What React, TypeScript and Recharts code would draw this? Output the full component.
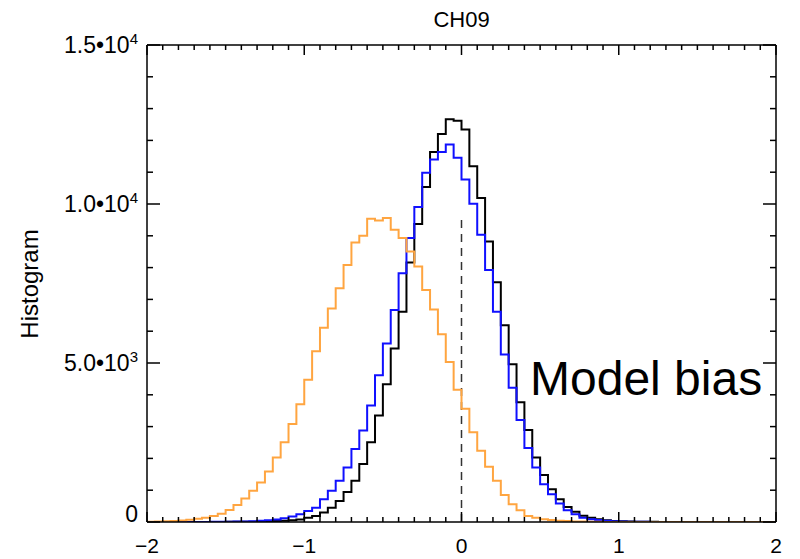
import React from "react";
import { ComposedChart, Line, XAxis, YAxis, ReferenceLine } from "recharts";

const FONT = '"Liberation Sans", Arial, Helvetica, sans-serif';

// histogram bins: 80 bins of width 0.05 from -2 to 2 (value = left edge)
const BIN_START = -2;
const BIN_WIDTH = 0.05;

const blackCounts = [
  0, 0, 0, 0, 0, 1, 1, 2, 2, 3, 4, 6, 8, 11, 15, 20, 28, 38, 55, 80,
  130, 190, 295, 450, 663, 947, 1295, 1821, 2505, 3348, 4330, 5454, 6610, 8158, 9369, 10538, 11632, 12200, 12664, 12620,
  12340, 11190, 10190, 8822, 7537, 6190, 4958, 3768, 2895, 2031, 1480, 1032, 716, 474, 326, 200, 130, 85, 55, 35,
  22, 14, 9, 6, 4, 3, 2, 1, 1, 0, 0, 0, 0, 0, 0, 0, 0, 0, 0, 0,
];

const blueCounts = [
  0, 0, 0, 1, 1, 1, 2, 3, 4, 6, 8, 12, 18, 26, 38, 56, 82, 120, 170, 243,
  347, 452, 716, 979, 1295, 1716, 2295, 2874, 3663, 4611, 5612, 6663, 7822, 8928, 9906, 10980, 11400, 11632, 11874, 11454,
  10769, 10011, 9032, 7926, 6610, 5264, 4221, 3211, 2327, 1716, 1190, 874, 579, 369, 243, 137, 90, 60, 40, 25,
  16, 10, 6, 4, 2, 1, 1, 0, 0, 0, 0, 0, 0, 0, 0, 0, 0, 0, 0, 0,
];

const orangeCounts = [
  10, 15, 25, 35, 50, 70, 100, 137, 190, 263, 379, 537, 737, 979, 1242, 1590, 2031, 2505, 3085, 3700,
  4474, 5369, 6106, 6716, 7348, 8085, 8790, 9000, 9537, 9485, 9559, 9190, 8928, 8505, 8031, 7295, 6686, 5905, 5031, 4158,
  3558, 2821, 2242, 1737, 1295, 853, 558, 369, 190, 130, 90, 60, 40, 28, 18, 12, 8, 5, 3, 2,
  1, 1, 0, 0, 0, 0, 0, 0, 0, 0, 0, 0, 0, 0, 0, 0, 0, 0, 0, 0,
];

const X_DOMAIN: [number, number] = [-2, 2];
const Y_DOMAIN: [number, number] = [0, 15000];
const X_TICKS = Array.from({ length: 41 }, (_, i) => +(-2 + i * 0.1).toFixed(1));
const Y_TICKS = Array.from({ length: 16 }, (_, i) => i * 1000);
const X_MAJOR = [-2, -1, 0, 1, 2];
const Y_MAJOR = [0, 5000, 10000, 15000];

const BLACK = "#000000";
const BLUE = "#1010ff";
const ORANGE = "#ffa540";

// step rows: one per bin edge, the last edge repeats the last bin
const rows = Array.from({ length: blackCounts.length + 1 }, (_, i) => {
  const k = Math.min(i, blackCounts.length - 1);
  return {
    x: +(BIN_START + i * BIN_WIDTH).toFixed(2),
    black: blackCounts[k],
    blue: blueCounts[k],
    orange: orangeCounts[k],
  };
});

const dashTop = Math.max(...orangeCounts);

function XTick(props: any) {
  const { x, y, payload, side } = props;
  const v = payload.value;
  const major = X_MAJOR.includes(v);
  const len = major ? 10 : 5;
  const dir = side === "bottom" ? -1 : 1;
  return (
    <g>
      <line x1={x} x2={x} y1={y} y2={y + dir * len} stroke="#000" strokeWidth={1.5} />
      {major && side === "bottom" && (
        <text x={x} y={y + 31} textAnchor="middle" fontSize={21} fontFamily={FONT} fill="#000">
          {v < 0 ? `\u2212${Math.abs(v)}` : String(v)}
        </text>
      )}
    </g>
  );
}

function YTick(props: any) {
  const { x, y, payload, side } = props;
  const v = payload.value;
  const major = Y_MAJOR.includes(v);
  const len = major ? 13 : 6;
  const dir = side === "left" ? 1 : -1;
  let label: React.ReactNode = null;
  if (major && side === "left") {
    if (v === 0) {
      label = (
        <text x={x - 9} y={y} textAnchor="end" fontSize={23} fontFamily={FONT} fill="#000">
          0
        </text>
      );
    } else {
      const exp = Math.floor(Math.log10(v));
      const mant = (v / Math.pow(10, exp)).toFixed(1);
      label = (
        <text x={x - 9} y={y + 8} textAnchor="end" fontSize={23} fontFamily={FONT} fill="#000">
          {`${mant}\u202210`}
          <tspan dy={-9} fontSize={15}>
            {exp}
          </tspan>
        </text>
      );
    }
  }
  return (
    <g>
      <line x1={x} x2={x + dir * len} y1={y} y2={y} stroke="#000" strokeWidth={1.5} />
      {label}
    </g>
  );
}

export default function App() {
  const axisLine = { stroke: "#000", strokeWidth: 1.5 };
  return (
    <div style={{ position: "absolute", left: 0, top: 0, width: 800, height: 559, background: "#fff" }}>
      <ComposedChart width={800} height={559} data={rows} margin={{ top: 44, right: 23, bottom: 36, left: 146 }}>
        <XAxis
          dataKey="x"
          type="number"
          domain={X_DOMAIN}
          ticks={X_TICKS}
          interval={0}
          height={1}
          tickSize={0}
          tickMargin={0}
          tickLine={false}
          axisLine={axisLine}
          tick={(p: any) => <XTick {...p} side="bottom" />}
          allowDataOverflow
        />
        <XAxis
          xAxisId="top"
          dataKey="x"
          orientation="top"
          type="number"
          domain={X_DOMAIN}
          ticks={X_TICKS}
          interval={0}
          height={1}
          tickSize={0}
          tickMargin={0}
          tickLine={false}
          axisLine={axisLine}
          tick={(p: any) => <XTick {...p} side="top" />}
          allowDataOverflow
        />
        <YAxis
          type="number"
          domain={Y_DOMAIN}
          ticks={Y_TICKS}
          interval={0}
          width={1}
          tickSize={0}
          tickMargin={0}
          tickLine={false}
          axisLine={axisLine}
          tick={(p: any) => <YTick {...p} side="left" />}
          allowDataOverflow
        />
        <YAxis
          yAxisId="right"
          orientation="right"
          type="number"
          domain={Y_DOMAIN}
          ticks={Y_TICKS}
          interval={0}
          width={1}
          tickSize={0}
          tickMargin={0}
          tickLine={false}
          axisLine={axisLine}
          tick={(p: any) => <YTick {...p} side="right" />}
          allowDataOverflow
        />
        <ReferenceLine
          segment={[
            { x: 0, y: 0 },
            { x: 0, y: dashTop },
          ]}
          stroke="#333"
          strokeWidth={1.5}
          strokeDasharray="8 6"
        />
        {/* invisible series so the mirrored top/right axes get a scale */}
        <Line
          xAxisId="top"
          yAxisId="right"
          type="stepAfter"
          dataKey="black"
          stroke="none"
          dot={false}
          activeDot={false}
          legendType="none"
          isAnimationActive={false}
        />
        <Line type="stepAfter" dataKey="black" stroke={BLACK} strokeWidth={2} dot={false} activeDot={false} isAnimationActive={false} />
        <Line type="stepAfter" dataKey="blue" stroke={BLUE} strokeWidth={2} dot={false} activeDot={false} isAnimationActive={false} />
        <Line type="stepAfter" dataKey="orange" stroke={ORANGE} strokeWidth={2} dot={false} activeDot={false} isAnimationActive={false} />
      </ComposedChart>
      <svg width={800} height={559} style={{ position: "absolute", left: 0, top: 0, pointerEvents: "none" }}>
        <text x={461.5} y={27} textAnchor="middle" fontSize={22} fontFamily={FONT} fill="#000">
          CH09
        </text>
        <text transform="translate(38,284) rotate(-90)" textAnchor="middle" fontSize={24} fontFamily={FONT} fill="#000">
          Histogram
        </text>
        <text x={530} y={395} fontSize={48} fontFamily={FONT} fill="#000">
          Model bias
        </text>
      </svg>
    </div>
  );
}
